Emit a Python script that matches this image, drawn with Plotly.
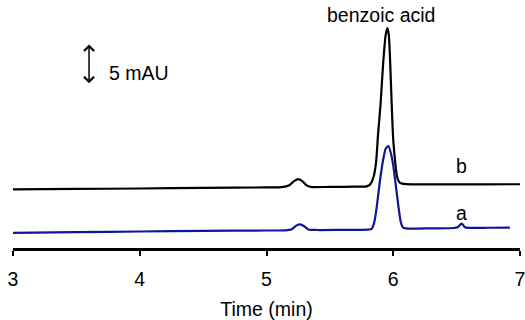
import plotly.graph_objects as go

# ---- data ----
# trace b (black), absorbance in mAU (offset baseline)
time_b = [3.0, 3.5, 4.0, 4.5, 5.0, 5.12, 5.18, 5.22, 5.25, 5.28, 5.32, 5.36, 5.5, 5.7,
          5.79, 5.82, 5.845, 5.865, 5.88, 5.9, 5.92, 5.94, 5.953, 5.965, 5.975, 5.99,
          6.0, 6.015, 6.03, 6.05, 6.07, 6.1, 6.3, 6.5, 6.7, 7.0]
abs_b = [5.34, 5.38, 5.44, 5.52, 5.57, 5.6, 5.85, 6.4, 6.62, 6.4, 5.8, 5.62, 5.64, 5.66,
         5.7, 6.0, 6.9, 8.8, 12.2, 16.0, 21.0, 24.6, 25.5, 24.6, 21.5, 15.0,
         11.5, 8.8, 6.9, 6.2, 6.05, 5.98, 5.95, 5.96, 5.96, 5.97]

# trace a (blue)
time_a = [3.0, 3.5, 4.0, 4.5, 5.0, 5.15, 5.2, 5.235, 5.265, 5.295, 5.33, 5.4, 5.6, 5.8,
          5.83, 5.85, 5.87, 5.896, 5.92, 5.94, 5.962, 5.985, 6.0, 6.015, 6.041, 6.06,
          6.075, 6.1, 6.3, 6.48, 6.51, 6.54, 6.565, 6.6, 6.75, 6.92]
abs_a = [-0.12, -0.02, 0.06, 0.15, 0.19, 0.21, 0.35, 0.8, 0.96, 0.75, 0.32, 0.25, 0.27, 0.3,
         0.4, 1.2, 3.16, 6.5, 9.0, 10.4, 10.75, 9.6, 8.3, 6.5, 3.16, 1.2,
         0.6, 0.45, 0.46, 0.5, 0.62, 1.05, 0.6, 0.52, 0.53, 0.54]

x_ticks = [3, 4, 5, 6, 7]
x_range = [3, 7]
y_range = [-2, 29]

# annotation positions (data units)
peak_label = "benzoic acid"
peak_label_pos = (5.904, 27.1)
label_b = ("b", 6.54, 8.2)
label_a = ("a", 6.54, 2.35)
scale_x = 3.6
scale_y = (18.4, 23.45)   # 5 mAU bar
scale_text = "5 mAU"
scale_text_pos = (3.74, 19.9)

FONT = "Liberation Sans, Arial, sans-serif"
FS = 19.5

fig = go.Figure()
fig.add_trace(go.Scatter(x=time_b, y=abs_b, mode="lines", line=dict(color="#000000", width=2.2, shape="spline", smoothing=0.6),
                         showlegend=False, hoverinfo="skip"))
fig.add_trace(go.Scatter(x=time_a, y=abs_a, mode="lines", line=dict(color="#141496", width=2.2, shape="spline", smoothing=0.6),
                         showlegend=False, hoverinfo="skip"))

fig.add_annotation(x=peak_label_pos[0], y=peak_label_pos[1], text=peak_label, showarrow=False,
                   font=dict(size=FS, color="black", family=FONT))
fig.add_annotation(x=label_b[1], y=label_b[2], text=label_b[0], showarrow=False,
                   font=dict(size=FS, color="black", family=FONT))
fig.add_annotation(x=label_a[1], y=label_a[2], text=label_a[0], showarrow=False,
                   font=dict(size=FS, color="black", family=FONT))
fig.add_annotation(x=scale_text_pos[0], y=scale_text_pos[1], text=scale_text, showarrow=False,
                   xanchor="left", font=dict(size=FS, color="black", family=FONT))
# double headed 5 mAU scale arrow
fig.add_annotation(x=scale_x, y=scale_y[1], ax=scale_x, ay=scale_y[0], xref="x", yref="y",
                   axref="x", ayref="y", text="", showarrow=True, arrowhead=4, startarrowhead=4,
                   arrowside="end+start", arrowwidth=1.5, arrowsize=1.3, arrowcolor="black",
                   standoff=0, startstandoff=0)

fig.update_layout(
    width=525, height=320,
    margin=dict(l=13, r=5, t=0, b=72),
    paper_bgcolor="white", plot_bgcolor="white",
    font=dict(family=FONT, size=FS, color="black"),
    xaxis=dict(range=x_range, tickvals=x_ticks, ticktext=[str(v) for v in x_ticks],
               showline=True, linecolor="black", linewidth=2.5, ticks="outside",
               ticklen=5, tickwidth=2, tickcolor="black", showgrid=False, zeroline=False,
               automargin=False, ticklabeloverflow="allow",
               tickfont=dict(size=FS, family=FONT), ticklabelstandoff=7,
               title=dict(text="Time (min)", font=dict(size=FS, family=FONT), standoff=15)),
    yaxis=dict(range=y_range, visible=False, showgrid=False, zeroline=False, automargin=False),
)

fig.write_html("out.html", config={"displayModeBar": False},
               post_script="document.body.style.margin='0';document.body.style.overflow='hidden';")
